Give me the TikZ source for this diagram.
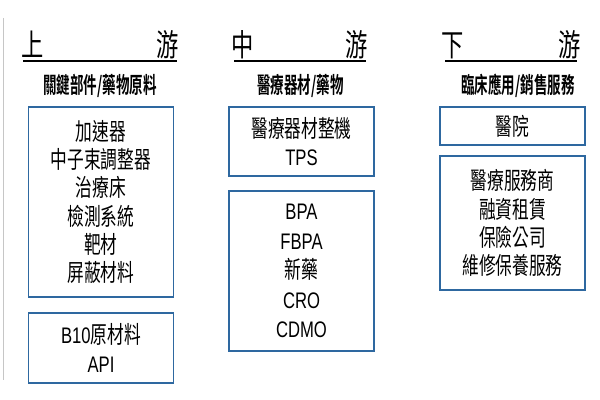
\documentclass[tikz,border=0pt]{standalone}
\usepackage{fontspec}
\newfontfamily\cjk[FakeStretch=0.7]{Noto Sans CJK TC}
\newfontfamily\cjkhead[FakeStretch=0.72]{Noto Sans CJK TC}
\newfontfamily\cjkbf[FakeStretch=0.6]{Noto Sans CJK TC Bold}
\newfontfamily\lat[FakeStretch=0.74]{Liberation Sans}
\usetikzlibrary{positioning}
\definecolor{boxblue}{RGB}{46,104,160}
\newcommand\latin[1]{{\lat\fontsize{16}{20}\selectfont #1}}

\begin{document}
\begin{tikzpicture}[x=0.025cm, y=-0.025cm,
  box/.style={draw=boxblue, line width=1pt, minimum width=3.62cm, inner sep=0pt,
    align=center, font=\cjk\fontsize{17}{20}\selectfont},
  head/.style={font=\cjkhead\fontsize{22}{24}\selectfont, anchor=base, inner sep=0pt},
  sub/.style={font=\cjkbf\fontsize{16}{18}\selectfont, inner sep=0pt}]
  \useasboundingbox (0,0) rectangle (600,400);
  \draw[gray!45, line width=0.6pt] (3,18) -- (3,380);

  % Headings
  \foreach \col/\ch/\xl/\xr/\ua/\ub in {up/上/32.5/167.5/23/177, mid/中/243/357/234/366, down/下/452.5/569.5/445/577}{
    \node[head] (\col L) at (\xl,57) {\ch};
    \node[head] (\col R) at (\xr,57) {游};
    \draw[line width=0.8pt] (\ua,61) -- (\ub,61);
  };
  \node[sub] (upS)   at (100,86)   {關鍵部件/藥物原料};
  \node[sub] (midS)  at (300.5,86) {醫療器材/藥物};
  \node[sub] (downS) at (518,86)   {臨床應用/銷售服務};

  % Boxes
  \node[box, minimum height=4.75cm] (upA) at (101,202)
    {加速器\\中子束調整器\\治療床\\檢測系統\\靶材\\屏蔽材料};
  \node[box, minimum height=1.75cm] (upB) at (101,348) {\latin{B10}原材料\\\latin{API}};

  \node[box, minimum height=1.725cm] (midA) at (301.5,141.5) {醫療器材整機\\\latin{TPS}};
  \node[box, minimum height=4cm] (midB) at (301.5,271)
    {\latin{BPA}\\[1pt]\latin{FBPA}\\[1pt]新藥\\[1pt]\latin{CRO}\\[1pt]\latin{CDMO}};

  \node[box, minimum height=0.95cm] (downA) at (512.5,126) {醫院};
  \node[box, minimum height=3.35cm] (downB) at (512.5,223)
    {醫療服務商\\融資租賃\\保險公司\\維修保養服務};

\end{tikzpicture}
\end{document}
